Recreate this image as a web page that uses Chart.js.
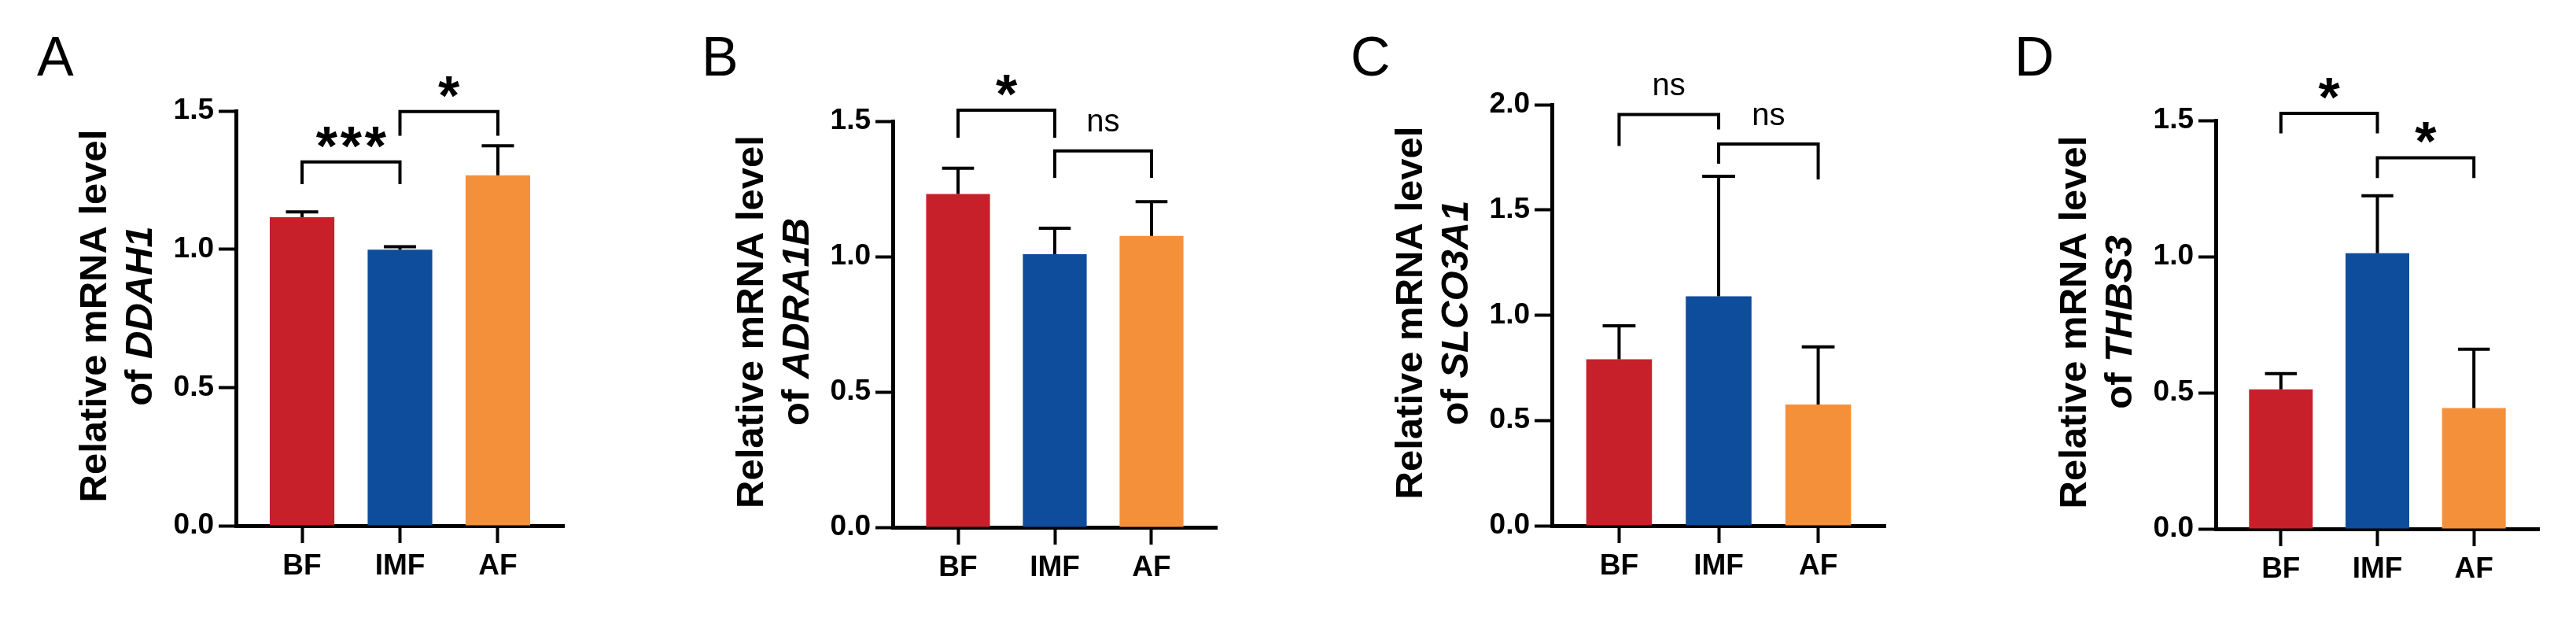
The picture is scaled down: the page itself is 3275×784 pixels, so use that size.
<!DOCTYPE html>
<html>
<head>
<meta charset="utf-8">
<script src="https://cdn.jsdelivr.net/npm/chart.js@4.4.1/dist/chart.umd.min.js"></script>
<style>
  html, body { margin: 0; padding: 0; background: #fff; }
  #wrap { position: relative; width: 3275px; height: 784px; overflow: hidden; }
  canvas { position: absolute; top: 0; }
</style>
</head>
<body>
<div id="wrap">
  <canvas id="canvas-A" width="820" height="784" style="left:0px"></canvas>
  <canvas id="canvas-B" width="820" height="784" style="left:820px"></canvas>
  <canvas id="canvas-C" width="815" height="784" style="left:1640px"></canvas>
  <canvas id="canvas-D" width="820" height="784" style="left:2455px"></canvas>
</div>
<script>
var FONT = '"Liberation Sans", Arial, Helvetica, sans-serif';

// groups and colours
var categories = ['BF', 'IMF', 'AF'];
var barColors = ['#C8202A', '#0E4C9C', '#F5903A'];
var yTitle = 'Relative mRNA level';

// A - DDAH1
var meansA = [1.116, 0.998, 1.267];
var sdA = [0.019, 0.011, 0.107];
var ticksA = [0, 0.5, 1.0, 1.5];
// [from, to, top, left leg end, right leg end]
var bracketsA = [[0, 1, 1.316, 1.235, 1.235], [1, 2, 1.498, 1.410, 1.410]];
var signifA = ['***', '*'];

// B - ADRA1B
var meansB = [1.231, 1.009, 1.076];
var sdB = [0.095, 0.096, 0.127];
var ticksB = [0, 0.5, 1.0, 1.5];
var bracketsB = [[0, 1, 1.541, 1.439, 1.439], [1, 2, 1.390, 1.291, 1.291]];
var signifB = ['*', 'ns'];

// C - SLCO3A1
var meansC = [0.791, 1.090, 0.576];
var sdC = [0.159, 0.570, 0.274];
var ticksC = [0, 0.5, 1.0, 1.5, 2.0];
var bracketsC = [[0, 1, 1.953, 1.804, 1.882], [1, 2, 1.813, 1.720, 1.645]];
var signifC = ['ns', 'ns'];

// D - THBS3
var meansD = [0.512, 1.012, 0.444];
var sdD = [0.058, 0.211, 0.216];
var ticksD = [0, 0.5, 1.0, 1.5];
var bracketsD = [[0, 1, 1.526, 1.452, 1.452], [1, 2, 1.363, 1.288, 1.288]];
var signifD = ['*', '*'];

var panels = [
  { id: 'canvas-A', letter: 'A', gene: 'DDAH1', means: meansA, sd: sdA, ticks: ticksA, brackets: bracketsA, signif: signifA,
    left: 0, width: 820, letterX: 47, axisX: 300, top: 141, bottom: 668, xEnd: 717 },
  { id: 'canvas-B', letter: 'B', gene: 'ADRA1B', means: meansB, sd: sdB, ticks: ticksB, brackets: bracketsB, signif: signifB,
    left: 820, width: 820, letterX: 892, axisX: 1135, top: 154, bottom: 670, xEnd: 1547 },
  { id: 'canvas-C', letter: 'C', gene: 'SLCO3A1', means: meansC, sd: sdC, ticks: ticksC, brackets: bracketsC, signif: signifC,
    left: 1640, width: 815, letterX: 1717, axisX: 1973, top: 133, bottom: 668, xEnd: 2397 },
  { id: 'canvas-D', letter: 'D', gene: 'THBS3', means: meansD, sd: sdD, ticks: ticksD, brackets: bracketsD, signif: signifD,
    left: 2455, width: 820, letterX: 2561, axisX: 2817, top: 153, bottom: 672, xEnd: 3228 }
];

function annotations(p) {
  return {
    id: 'annot-' + p.letter,
    afterDatasetsDraw: function (chart) {
      // error bars (mean + SD)
      var ctx = chart.ctx;
      var ys = chart.scales.y;
      var meta = chart.getDatasetMeta(0);
      ctx.save();
      ctx.strokeStyle = '#000';
      ctx.lineWidth = 4;
      p.means.forEach(function (m, i) {
        var bar = meta.data[i];
        var top = ys.getPixelForValue(m);
        var hi = ys.getPixelForValue(m + p.sd[i]);
        var half = bar.width / 4;
        ctx.beginPath();
        ctx.moveTo(bar.x, top);
        ctx.lineTo(bar.x, hi);
        ctx.moveTo(bar.x - half, hi);
        ctx.lineTo(bar.x + half, hi);
        ctx.stroke();
      });
      ctx.restore();
    },
    afterDraw: function (chart) {
      var ctx = chart.ctx;
      var xs = chart.scales.x, ys = chart.scales.y;
      var area = chart.chartArea;

      // significance brackets
      ctx.save();
      ctx.strokeStyle = '#000';
      ctx.fillStyle = '#000';
      ctx.lineWidth = 4;
      ctx.lineJoin = 'miter';
      p.brackets.forEach(function (b, k) {
        var x1 = xs.getPixelForValue(b[0]), x2 = xs.getPixelForValue(b[1]);
        var yt = ys.getPixelForValue(b[2]);
        ctx.beginPath();
        ctx.moveTo(x1, ys.getPixelForValue(b[3]));
        ctx.lineTo(x1, yt);
        ctx.lineTo(x2, yt);
        ctx.lineTo(x2, ys.getPixelForValue(b[4]));
        ctx.stroke();

        var label = p.signif[k];
        var cx = (x1 + x2) / 2;
        ctx.textAlign = 'center';
        ctx.textBaseline = 'alphabetic';
        if (label === 'ns') {
          ctx.font = '40px ' + FONT;
          ctx.fillText(label, cx, yt - 35 + 10.5);
        } else {
          ctx.font = 'bold 70px ' + FONT;
          var n = label.length;
          for (var j = 0; j < n; j++) {
            ctx.fillText('*', cx + (j - (n - 1) / 2) * 31, yt - 35 + 39);
          }
        }
      });
      ctx.restore();

      // y axis title, two lines, gene name in italics
      var cy = (area.top + area.bottom) / 2 - 3;
      var ax = p.axisX - p.left;
      ctx.save();
      ctx.fillStyle = '#000';
      ctx.translate(ax - 165, cy);
      ctx.rotate(-Math.PI / 2);
      ctx.font = 'bold 49px ' + FONT;
      ctx.textAlign = 'center';
      ctx.textBaseline = 'alphabetic';
      ctx.fillText(yTitle, 0, 0);
      ctx.restore();

      ctx.save();
      ctx.fillStyle = '#000';
      ctx.translate(ax - 107, cy);
      ctx.rotate(-Math.PI / 2);
      var f1 = 'bold 49px ' + FONT, f2 = 'italic bold 49px ' + FONT;
      ctx.font = f1;
      var w1 = ctx.measureText('of ').width;
      ctx.font = f2;
      var w2 = ctx.measureText(p.gene).width;
      var x0 = -(w1 + w2) / 2;
      ctx.textAlign = 'left';
      ctx.textBaseline = 'alphabetic';
      ctx.font = f1;
      ctx.fillText('of ', x0, 0);
      ctx.font = f2;
      ctx.fillText(p.gene, x0 + w1, 0);
      ctx.restore();

      // panel letter
      ctx.save();
      ctx.fillStyle = '#000';
      ctx.font = '70px ' + FONT;
      ctx.textAlign = 'left';
      ctx.textBaseline = 'alphabetic';
      ctx.fillText(p.letter, p.letterX - p.left, 96);
      ctx.restore();
    }
  };
}

function axisGrid() {
  return { display: true, drawOnChartArea: false, drawTicks: true, tickLength: 22, tickWidth: 4, tickColor: '#000', offset: false };
}

panels.forEach(function (p) {
  var ctx = document.getElementById(p.id);
  var chart = new Chart(ctx, {
    type: 'bar',
    data: {
      datasets: [{
        data: p.means.map(function (v, i) { return { x: i, y: v }; }),
        backgroundColor: barColors,
        borderWidth: 0,
        barPercentage: 0.66,
        categoryPercentage: 1
      }]
    },
    options: {
      responsive: false,
      animation: false,
      devicePixelRatio: 1,
      layout: { padding: { left: 0, top: p.top, right: p.width - (p.xEnd - p.left), bottom: 0 } },
      plugins: { legend: { display: false }, tooltip: { enabled: false } },
      scales: {
        x: {
          type: 'linear',
          min: -0.675,
          max: 2.675,
          offset: false,
          afterBuildTicks: function (s) { s.ticks = categories.map(function (c, i) { return { value: i }; }); },
          afterFit: function (s) { s.height = 784 - p.bottom; },
          ticks: {
            callback: function (v) { return categories[v]; },
            font: { family: FONT, size: 37, weight: 'bold' },
            color: '#000',
            padding: 8,
            maxRotation: 0,
            autoSkip: false
          },
          grid: axisGrid(),
          border: { display: true, width: 5, color: '#000' }
        },
        y: {
          min: 0,
          max: p.ticks[p.ticks.length - 1],
          afterBuildTicks: function (s) { s.ticks = p.ticks.map(function (v) { return { value: v }; }); },
          afterFit: function (s) { s.width = p.axisX - p.left; },
          ticks: {
            callback: function (v) { return v.toFixed(1); },
            font: { family: FONT, size: 37, weight: 'bold' },
            color: '#000',
            padding: 6
          },
          grid: axisGrid(),
          border: { display: true, width: 5, color: '#000' }
        }
      }
    },
    plugins: [annotations(p)]
  });
});
</script>
</body>
</html>
